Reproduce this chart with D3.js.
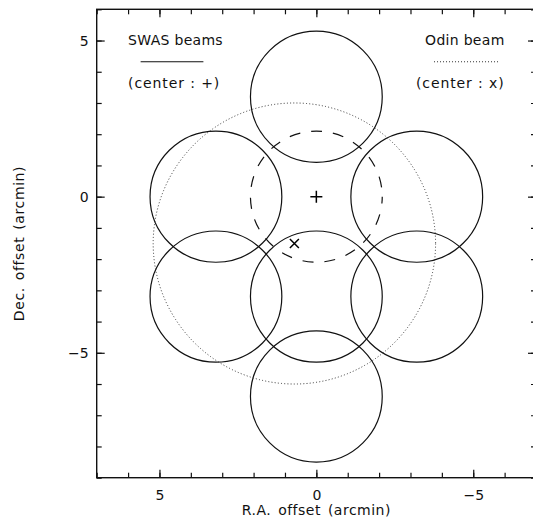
<!DOCTYPE html>
<html>
<head>
<meta charset="utf-8">
<script src="https://cdn.jsdelivr.net/npm/d3@7"></script>
<style>
  html, body { margin: 0; padding: 0; background: #fff; }
  svg { display: block; }
  text { font-family: "DejaVu Sans", sans-serif; font-size: 14px; fill: #111; }
</style>
</head>
<body>
<div id="chart"></div>
<script>
// ---- data ----
const xDomain = [7, -7];          // R.A. offset (arcmin), east to the left
const yDomain = [-9, 6];          // Dec. offset (arcmin)
const xMajorTicks = [5, 0, -5];
const yMajorTicks = [5, 0, -5];
const xMinorTicks = d3.range(-7, 8, 1);
const yMinorTicks = d3.range(-9, 7, 1);

const swasCentersX = [0, 3.2, -3.2, 3.2, 0, -3.2, 0];
const swasCentersY = [3.2, 0, 0, -3.2, -3.2, -3.2, -6.4];
const swasRadius = 2.1;

const dashedCenter = [0, 0];
const dashedRadius = 2.1;

const odinCenter = [0.7, -1.5];
const odinRadius = 4.5;

const swasMarker = [0, 0];        // "+"
const odinMarker = [0.7, -1.5];   // "x"

const legendLeftLabels = ["SWAS beams", "(center : +)"];
const legendRightLabels = ["Odin beam", "(center : x)"];
const xTitle = "R.A. offset (arcmin)";
const yTitle = "Dec. offset (arcmin)";

// ---- layout ----
const W = 533, H = 519;
const x0 = 96.7, x1 = 536, y0 = 9.3, y1 = 477.7;

const svg = d3.select("#chart").append("svg").attr("width", W).attr("height", H);

const x = d3.scaleLinear().domain(xDomain).range([x0, x1]);
const y = d3.scaleLinear().domain(yDomain).range([y1, y0]);

const rx = r => Math.abs(x(r) - x(0));
const ry = r => Math.abs(y(r) - y(0));

// ---- axes (ticks inward on all four sides) ----
const fmt = d => d3.format("")(d).replace("-", "\u2212");

function axisSet(axisGen, transform, ticks, size, labels) {
  const g = svg.append("g").attr("transform", transform)
    .call(axisGen.tickValues(ticks).tickSize(size).tickSizeOuter(0)
      .tickFormat(labels ? fmt : ""));
  g.select(".domain").remove();
  g.selectAll(".tick line").attr("stroke", "#111").attr("stroke-width", 1.2);
  return g;
}
const major = 8, minor = 5;
// bottom
axisSet(d3.axisTop(x), `translate(0,${y1})`, xMinorTicks, minor, false);
const gxb = axisSet(d3.axisTop(x), `translate(0,${y1})`, xMajorTicks, major, true);
gxb.selectAll(".tick text").attr("y", 22).attr("dy", 0).attr("text-anchor", "middle").style("font-size", "14px");
// top
axisSet(d3.axisBottom(x), `translate(0,${y0})`, xMinorTicks, minor, false);
axisSet(d3.axisBottom(x), `translate(0,${y0})`, xMajorTicks, major, false);
// left
axisSet(d3.axisRight(y), `translate(${x0},0)`, yMinorTicks, minor, false);
const gyl = axisSet(d3.axisRight(y), `translate(${x0},0)`, yMajorTicks, major, true);
gyl.selectAll(".tick text").attr("x", -8).attr("dy", "0.36em").attr("text-anchor", "end").style("font-size", "14px");
// right
axisSet(d3.axisLeft(y), `translate(${x1},0)`, yMinorTicks, minor, false);
axisSet(d3.axisLeft(y), `translate(${x1},0)`, yMajorTicks, major, false);

svg.selectAll(".tick text").attr("fill", "#111").style("font-family", "DejaVu Sans, sans-serif");

// frame
svg.append("rect").attr("x", x0).attr("y", y0).attr("width", x1 - x0).attr("height", y1 - y0)
  .attr("fill", "none").attr("stroke", "#111").attr("stroke-width", 1.4);

// ---- beams ----
const swas = swasCentersX.map((cx, i) => ({ cx, cy: swasCentersY[i] }));
svg.append("g").selectAll("ellipse").data(swas).join("ellipse")
  .attr("cx", d => x(d.cx)).attr("cy", d => y(d.cy))
  .attr("rx", rx(swasRadius)).attr("ry", ry(swasRadius))
  .attr("fill", "none").attr("stroke", "#111").attr("stroke-width", 1.2);

svg.append("ellipse")
  .attr("cx", x(dashedCenter[0])).attr("cy", y(dashedCenter[1]))
  .attr("rx", rx(dashedRadius)).attr("ry", ry(dashedRadius))
  .attr("fill", "none").attr("stroke", "#111").attr("stroke-width", 1.2)
  .attr("stroke-dasharray", "11,11").attr("stroke-dashoffset", 4);

svg.append("ellipse")
  .attr("cx", x(odinCenter[0])).attr("cy", y(odinCenter[1]))
  .attr("rx", rx(odinRadius)).attr("ry", ry(odinRadius))
  .attr("fill", "none").attr("stroke", "#333").attr("stroke-width", 1)
  .attr("stroke-dasharray", "1,2.2");

// markers
const px = x(swasMarker[0]), py = y(swasMarker[1]);
svg.append("path").attr("d", `M${px - 6},${py}H${px + 6}M${px},${py - 6}V${py + 6}`)
  .attr("stroke", "#000").attr("stroke-width", 1.5);
const ox = x(odinMarker[0]), oy = y(odinMarker[1]);
svg.append("path").attr("d", `M${ox - 4.5},${oy - 4.5}L${ox + 4.5},${oy + 4.5}M${ox - 4.5},${oy + 4.5}L${ox + 4.5},${oy - 4.5}`)
  .attr("stroke", "#000").attr("stroke-width", 1.5);

// ---- legend ----
svg.append("text").attr("x", x(6)).attr("y", 45).attr("text-anchor", "start")
  .style("letter-spacing", "0.3px").text(legendLeftLabels[0]);
svg.append("line").attr("x1", x(5.6)).attr("x2", x(3.6)).attr("y1", y(4.32)).attr("y2", y(4.32))
  .attr("stroke", "#111").attr("stroke-width", 1.2);
svg.append("text").attr("x", x(6)).attr("y", 88).attr("text-anchor", "start")
  .style("letter-spacing", "0.9px").text(legendLeftLabels[1]);

svg.append("text").attr("x", x(-6)).attr("y", 45).attr("text-anchor", "end")
  .style("letter-spacing", "0.3px").text(legendRightLabels[0]);
svg.append("line").attr("x1", x(-3.75)).attr("x2", x(-5.8)).attr("y1", y(4.32)).attr("y2", y(4.32))
  .attr("stroke", "#333").attr("stroke-width", 1).attr("stroke-dasharray", "1,2");
svg.append("text").attr("x", x(-6)).attr("y", 88).attr("text-anchor", "end")
  .style("letter-spacing", "0.9px").text(legendRightLabels[1]);

// ---- axis titles ----
svg.append("text").attr("x", (x0 + x1) / 2).attr("y", 515).attr("text-anchor", "middle")
  .style("letter-spacing", "0.5px").style("word-spacing", "2px").text(xTitle);
svg.append("text").attr("transform", `translate(24,${(y0 + y1) / 2}) rotate(-90)`)
  .attr("text-anchor", "middle").style("letter-spacing", "0.6px").style("word-spacing", "2px").text(yTitle);
</script>
</body>
</html>
